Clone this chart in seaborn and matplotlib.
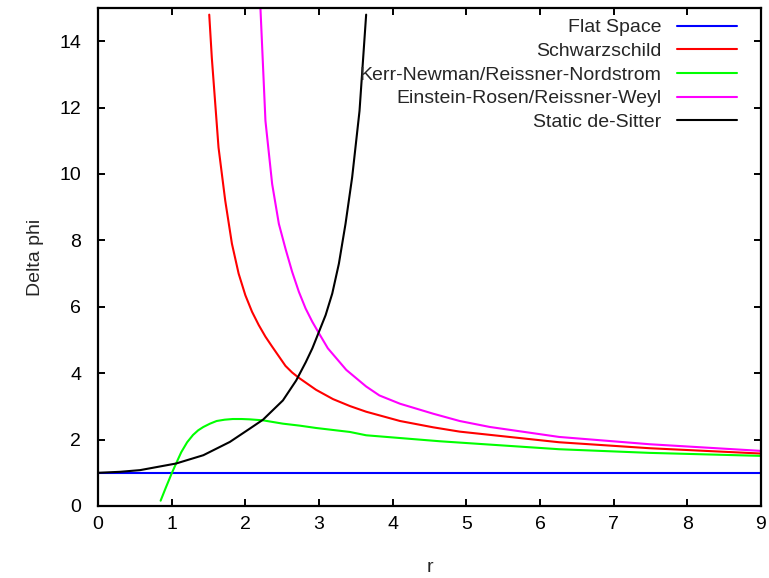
import numpy as np
import pandas as pd
import seaborn as sns
import matplotlib
matplotlib.use("Agg")
import matplotlib.pyplot as plt


# values
flat_r = [0.0, 9.0]
flat_y = [1.0, 1.0]

schw_r = [1.51, 1.545, 1.636, 1.727, 1.818, 1.909, 2.0, 2.091, 2.182, 2.273, 2.364, 2.545, 2.636,
          2.727, 2.96, 3.19, 3.42, 3.64, 4.10, 4.55, 4.91, 6.26, 7.49, 9.00]
schw_y = [14.8, 13.5, 10.8, 9.2, 7.9, 7.0, 6.35, 5.85, 5.45, 5.1, 4.8, 4.22, 4.02,
          3.86, 3.5, 3.22, 3.01, 2.84, 2.56, 2.37, 2.24, 1.92, 1.74, 1.58]

kerr_r = [0.85, 0.92, 1.00, 1.06, 1.13, 1.21, 1.29, 1.36, 1.43, 1.52, 1.61, 1.72, 1.83, 1.95,
          2.06, 2.24, 2.51, 2.74, 2.96, 3.42, 3.64, 4.64, 4.91, 6.26, 7.49, 9.00]
kerr_y = [0.16, 0.55, 0.98, 1.28, 1.62, 1.92, 2.14, 2.28, 2.38, 2.48, 2.56, 2.60, 2.62, 2.62,
          2.61, 2.58, 2.48, 2.42, 2.35, 2.23, 2.13, 1.95, 1.91, 1.71, 1.60, 1.51]

ein_r = [2.205, 2.273, 2.364, 2.455, 2.545, 2.636, 2.727, 2.818, 2.909, 3.0, 3.12, 3.37, 3.64,
         3.82, 4.10, 4.55, 4.91, 5.32, 6.26, 7.49, 9.00]
ein_y = [15.0, 11.6, 9.7, 8.5, 7.75, 7.05, 6.45, 5.95, 5.55, 5.2, 4.75, 4.1, 3.6,
         3.33, 3.08, 2.78, 2.56, 2.38, 2.08, 1.86, 1.66]

sit_r = [0.0, 0.3, 0.57, 1.06, 1.43, 1.79, 2.06, 2.24, 2.51, 2.69, 2.82, 2.91, 3.0, 3.09, 3.18,
         3.27, 3.36, 3.45, 3.55, 3.64]
sit_y = [1.0, 1.03, 1.08, 1.28, 1.53, 1.93, 2.33, 2.60, 3.18, 3.78, 4.33, 4.75, 5.25, 5.75, 6.4,
         7.3, 8.5, 9.9, 11.9, 14.8]

series = [
    ("Flat Space", flat_r, flat_y, "#0000ff"),
    ("Schwarzschild", schw_r, schw_y, "#ff0000"),
    ("Kerr-Newman/Reissner-Nordstrom", kerr_r, kerr_y, "#00ff00"),
    ("Einstein-Rosen/Reissner-Weyl", ein_r, ein_y, "#ff00ff"),
    ("Static de-Sitter", sit_r, sit_y, "#000000"),
]

sns.set_theme(style="ticks")
plt.rcParams['font.family'] = ['Liberation Sans', 'DejaVu Sans']

fig = plt.figure(figsize=(7.69, 5.78), dpi=100)
ax = fig.add_axes([98/769, 1 - 506/578, 663/769, 498/578])

for name, r, y, col in series:
    df = pd.DataFrame({"r": r, "y": y})
    sns.lineplot(data=df, x="r", y="y", ax=ax, color=col, label=name,
                 sort=False, estimator=None, linewidth=1.5)

ax.set_xlim(0, 9)
ax.set_ylim(0, 15)
ax.set_xticks(range(0, 10))
ax.set_yticks(range(0, 15, 2))
ax.tick_params(direction="in", length=5, width=1.4, top=True, right=True,
               labelsize=14, colors="black", pad=7)
ax.tick_params(axis="y", pad=12)
for s in ax.spines.values():
    s.set_linewidth(1.6)
    s.set_color("black")

ax.set_xlabel("r", fontsize=14, labelpad=19)
ax.set_ylabel("Delta phi", fontsize=14, labelpad=11)

ax.legend(loc="upper right", frameon=False, markerfirst=False, fontsize=14,
          handlelength=3.1, handletextpad=0.77, labelspacing=0.31,
          borderaxespad=0.3, bbox_to_anchor=(0.984, 1.0055))

fig.savefig("out.png", dpi=100)
